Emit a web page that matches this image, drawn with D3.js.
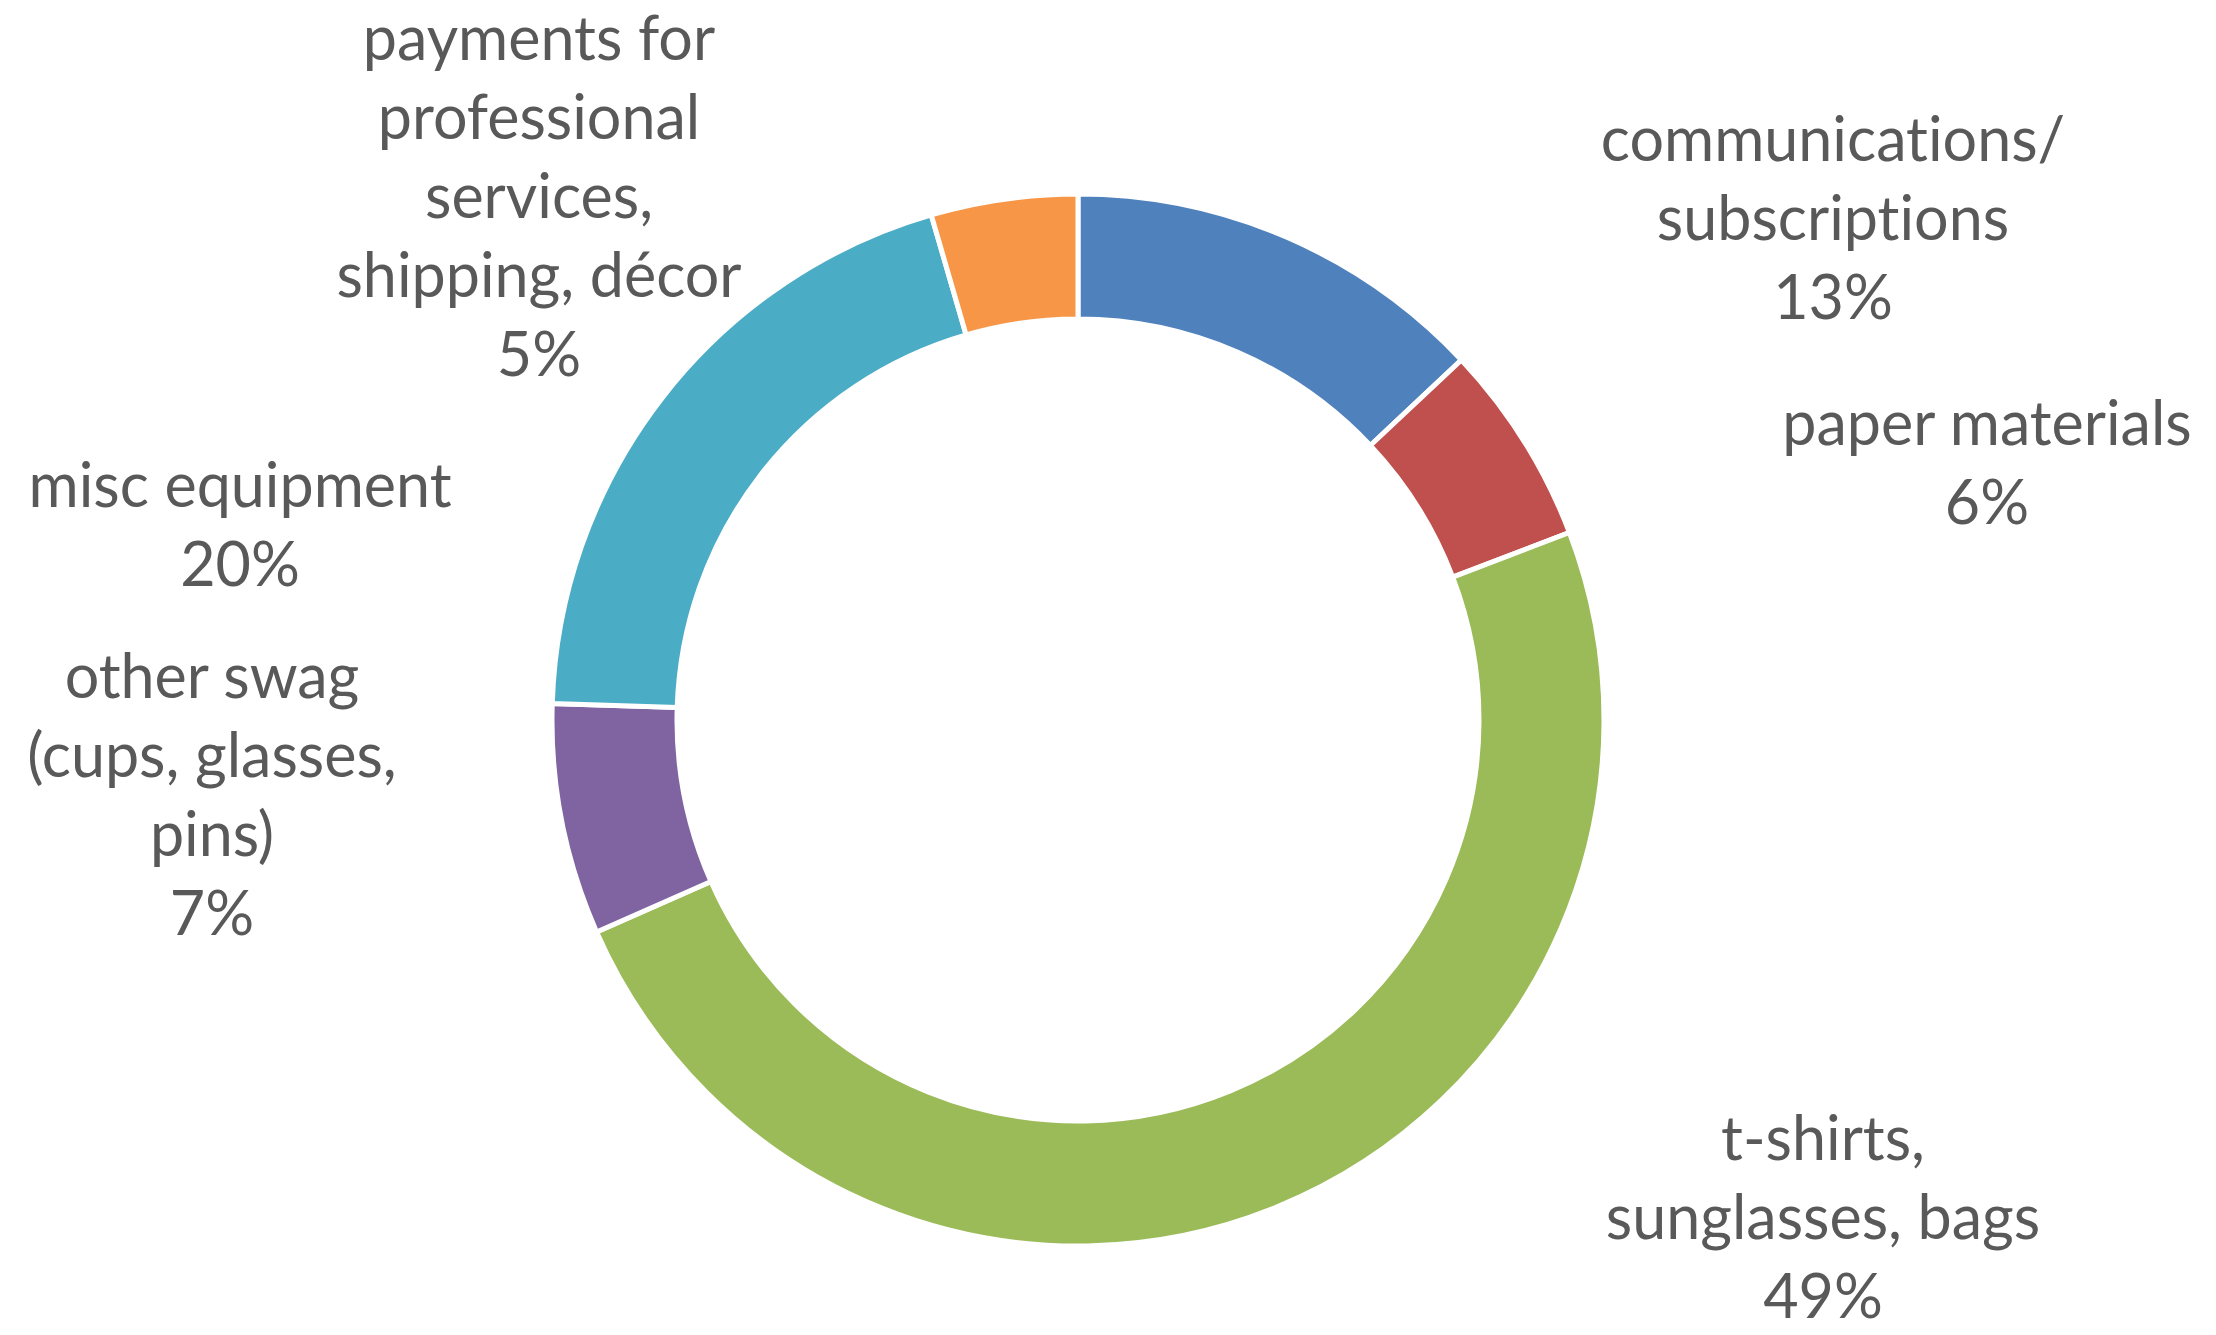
<html>
  <head>
    <script src="https://cdn.jsdelivr.net/npm/d3@7"></script>
    <style>
      * {
        margin: 0;
        padding: 0;
      }
      body {
        background-color: white;
      }
      .label {
        font-family: Lato, "Open Sans", sans-serif;
        font-size: 61px;
        font-variant-ligatures: none;
        fill: #595959;
      }
    </style>
  </head>
  <body>
    <div id="chart"></div>
    <script>
      // categories, clockwise from 12 o'clock
      const categories = [
        ["communications/", "subscriptions"],
        ["paper materials"],
        ["t-shirts,", "sunglasses, bags"],
        ["other swag", "(cups, glasses,", "pins)"],
        ["misc equipment"],
        ["payments for", "professional", "services,", "shipping, décor"],
      ];
      // share of spend, percent
      const values = [13, 6.2, 49.2, 7.1, 20, 4.5];
      const colors = ["#4f81bd", "#c0504d", "#9bbb59", "#8064a2", "#4bacc6", "#f79646"];

      // label anchors: centre x, baseline of first line
      const labelPos = [
        [1833, 161],
        [1987, 445],
        [1823, 1160],
        [212, 698],
        [240, 507],
        [539, 60],
      ];

      const w = 2216;
      const h = 1335;
      const cx = 1078;
      const cy = 720;
      const outerR = 526;
      const innerR = 401;
      const lineH = 79;

      const svg = d3
        .select("#chart")
        .append("svg")
        .attr("width", w)
        .attr("height", h);

      const pie = d3.pie().sort(null).value((d) => d);
      const arc = d3.arc().innerRadius(innerR).outerRadius(outerR);

      const total = d3.sum(values);
      const slices = pie(values);

      svg
        .append("g")
        .attr("transform", "translate(" + cx + "," + cy + ")")
        .selectAll("path")
        .data(slices)
        .enter()
        .append("path")
        .attr("d", arc)
        .attr("fill", (d, i) => colors[i])
        .attr("stroke", "white")
        .attr("stroke-width", 5)
        .attr("stroke-linejoin", "miter");

      const labels = svg
        .selectAll(".label")
        .data(slices)
        .enter()
        .append("text")
        .attr("class", "label")
        .attr("text-anchor", "middle")
        .attr("x", (d, i) => labelPos[i][0])
        .attr("y", (d, i) => labelPos[i][1]);

      labels.each(function (d, i) {
        const lines = categories[i].concat([Math.round((d.value / total) * 100) + "%"]);
        d3.select(this)
          .selectAll("tspan")
          .data(lines)
          .enter()
          .append("tspan")
          .attr("x", labelPos[i][0])
          .attr("dy", (l, j) => (j == 0 ? 0 : lineH))
          .text((l) => l);
      });
    </script>
  </body>
</html>
